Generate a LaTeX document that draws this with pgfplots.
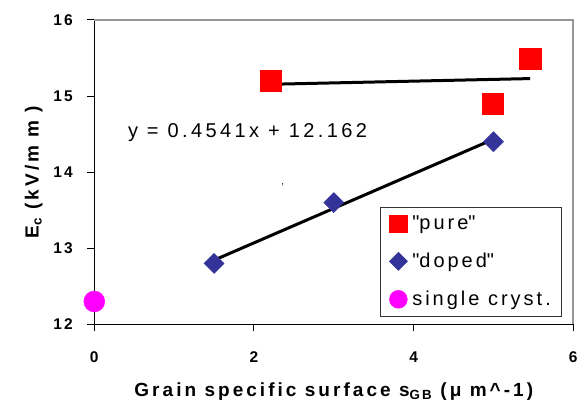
\documentclass[border=0pt]{standalone}
\usepackage{pgfplots}
\pgfplotsset{compat=1.18}
\usepackage{fontspec}
\setmainfont{Liberation Sans}
\definecolor{pureRed}{RGB}{255,0,0}
\definecolor{dopedBlue}{RGB}{51,51,153}
\definecolor{singleMag}{RGB}{255,0,255}
\definecolor{frameGray}{RGB}{150,150,150}
\newcommand{\tickfont}{\fontsize{15.5bp}{18bp}\selectfont\bfseries\addfontfeatures{LetterSpace=14}}
\newcommand{\labfont}{\fontsize{19bp}{22bp}\selectfont\bfseries\addfontfeatures{LetterSpace=16}}
\newcommand{\txtfont}{\fontsize{20bp}{24bp}\selectfont\addfontfeatures{LetterSpace=15}}
\newcommand{\eqfont}{\fontsize{20bp}{24bp}\selectfont\addfontfeatures{LetterSpace=17}}
\begin{document}
\begin{tikzpicture}
\useasboundingbox (-94.3bp,-82.7bp) rectangle (490.7bp,324.3bp);
\begin{axis}[
  scale only axis,
  width=479bp, height=304.3bp,
  xmin=0, xmax=6, ymin=12, ymax=16,
  xtick={0,2,4,6}, ytick={12,13,14,15,16},
  tick pos=left, tick align=outside,
  major tick length=7bp,
  tick style={black, line width=1bp},
  axis line style={black, line width=1.2bp},
  /pgf/number format/assume math mode=true,
  ticklabel style={font=\tickfont},
  xticklabel style={yshift=-17bp},
  yticklabel style={xshift=-11bp},
  xlabel={Grain specific surface s\textsubscript{GB} (μ m\textasciicircum-1)},
  ylabel={E\textsubscript{c} (kV/m m )},
  label style={font=\labfont},
  xlabel style={yshift=-13bp},
  ylabel style={yshift=4bp},
  clip=false,
  legend style={at={(rel axis cs:0.977,0.025)}, anchor=south east,
    draw=black!80, line width=0.8bp, font=\txtfont,
    inner xsep=9bp, inner ysep=7bp, row sep=18bp, column sep=3bp},
  legend cell align=left,
  legend image code/.code={\draw[#1] plot coordinates {(0bp,0bp)};},
]
% trend lines
\addplot[black, line width=3bp, forget plot] coordinates {(2.21,15.155) (5.46,15.23)};
\addplot[black, line width=3bp, forget plot] coordinates {(1.5,12.843) (5.0,14.433)};
% data
\addplot[only marks, mark=square*, mark size=10.7bp, color=pureRed, forget plot] coordinates {(2.21,15.2) (4.99,14.9) (5.46,15.49)};
\addplot[only marks, mark=square*, mark size=7.1bp, mark options={rotate=45}, color=dopedBlue, forget plot] coordinates {(1.5,12.8) (3.0,13.6) (5.0,14.4)};
\addplot[only marks, mark=*, mark size=10.5bp, color=singleMag, forget plot] coordinates {(0,12.3)};
% legend images
\addlegendimage{only marks, mark=square*, mark size=8.8bp, color=pureRed}
\addlegendentry{\textquotedbl pure\textquotedbl}
\addlegendimage{only marks, mark=square*, mark size=6.3bp, mark options={rotate=45}, color=dopedBlue}
\addlegendentry{\textquotedbl doped\textquotedbl}
\addlegendimage{only marks, mark=*, mark size=8.8bp, color=singleMag}
\addlegendentry{single cryst.}
% equation
\node[anchor=west, font=\eqfont, inner sep=0pt] at (axis cs:0.42,14.52) {y = 0.4541x + 12.162};
\node[font=\fontsize{10bp}{12bp}\selectfont, inner sep=0pt] at (axis cs:2.36,13.81) {'};
% gray frame top/right
\draw[frameGray, line width=1.6bp] (rel axis cs:0,1) -- (rel axis cs:1,1) -- (rel axis cs:1,0);
\end{axis}
\end{tikzpicture}
\end{document}
